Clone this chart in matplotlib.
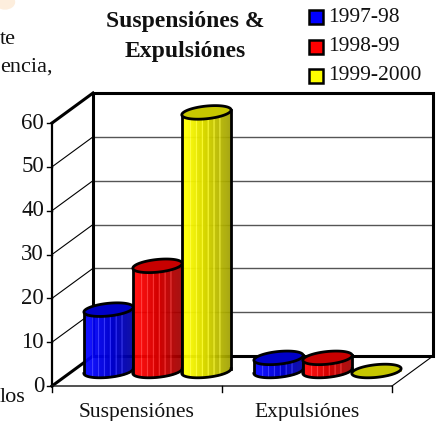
import numpy as np
import matplotlib
matplotlib.use('Agg')
import matplotlib.pyplot as plt
from matplotlib.patches import Ellipse, Rectangle

plt.rcParams['font.family'] = ['Liberation Serif', 'DejaVu Serif']

# Datos
categorias = ['Suspensiónes', 'Expulsiónes']
series = ['1997-98', '1998-99', '1999-2000']
suspensiones = [14, 24, 59]
expulsiones = [3, 3, 0]
ticks_y = [0, 10, 20, 30, 40, 50, 60]

colores = [(0, 0, 1), (1, 0, 0), (1, 1, 0)]
W, H = 436, 421
x0_px, y0_px = 52, 386      # origen de la cara frontal
ux, uy = 170.0, 4.383       # pixeles por categoria / por unidad
dx, dy = 41 / ux, 30 / uy   # profundidad en unidades de datos

fig = plt.figure(figsize=(W / 100, H / 100), dpi=100)
ax = fig.add_axes([0, 0, 1, 1])
ax.set_xlim(-x0_px / ux, (W - x0_px) / ux)
ax.set_ylim(-(H - y0_px) / uy, y0_px / uy)
ax.axis('off')

ymax = ticks_y[-1]


def px(x, y):
    # pixel de la imagen a coordenadas de datos, solo para textos sueltos
    return (x - x0_px) / ux, (y0_px - y) / uy


# Paredes y rejilla
for v in ticks_y[1:-1]:
    ax.plot([0, dx], [v, v + dy], color='black', lw=0.8, zorder=1)
    ax.plot([dx, 2 + dx], [v + dy, v + dy], color='#555555', lw=1.0, zorder=1)
ax.plot([dx, dx, 2 + dx, 2 + dx, dx], [dy, ymax + dy, ymax + dy, dy, dy],
        color='black', lw=2.2, zorder=1, solid_joinstyle='miter')
ax.plot([0, dx], [ymax, ymax + dy], color='black', lw=2.2, zorder=1)
ax.plot([0, dx], [0, dy], color='black', lw=2.2, zorder=1)
ax.plot([2, 2 + dx], [0, dy], color='black', lw=0.8, zorder=1)
ax.plot([0, 0], [0, ymax], color='black', lw=1.6, zorder=2)
ax.plot([0, 2], [0, 0], color='#222222', lw=1.1, zorder=2)

# Marcas y etiquetas de ejes
for v in ticks_y:
    ax.plot([-5 / ux, 0], [v, v], color='black', lw=1.0, zorder=2)
    ax.text(-8 / ux, v, str(v), ha='right', va='center', fontsize=16.5, color='#111111')
for c in [0, 1, 2]:
    ax.plot([c, c], [0, -6 / uy], color='black', lw=1.0, zorder=2)
for i, cat in enumerate(categorias):
    ax.text(i + 0.5, -26 / uy, cat, ha='center', va='center', fontsize=15.5, color='#111111')

# Cilindros
a, b, t = 0.145, 1.45, 0.55
ang = np.linspace(0, 2 * np.pi, 120)


def cilindro(cx, val, col, z):
    cy = dy / 2
    top = cy + val
    base_x = np.linspace(-a, a, 51)
    c = base_x / a
    low = -b * np.sqrt(1 - c ** 2) + t * c
    for k in range(50):
        f = (k + 0.5) / 50
        shade = 1.0 - 0.38 * max(0, f - 0.1) / 0.9
        extra = 0.0
        if k % 6 == 2 and 0.1 < f < 0.85:
            extra = 0.22
        rgb = [min(1, ch * shade + extra) for ch in col]
        xs = cx + base_x[k:k + 2]
        ax.fill_between(xs, cy + low[k:k + 2], [top, top], color=rgb, lw=0.3, zorder=z)
    ex = cx + a * np.cos(ang)
    if val > 0:
        ax.plot(ex[60:], cy + (b * np.sin(ang) + t * np.cos(ang))[60:], color='black', lw=2, zorder=z + 0.1)
        ax.plot([cx - a, cx - a], [cy - t, top - t], color='black', lw=2, zorder=z + 0.1)
        ax.plot([cx + a, cx + a], [cy + t, top + t], color='black', lw=2, zorder=z + 0.1)
    ey = top + b * np.sin(ang) + t * np.cos(ang)
    ax.fill(ex, ey, facecolor=[ch * 0.78 for ch in col], edgecolor='black', lw=2, zorder=z + 0.2)


for i, vals in enumerate([suspensiones, expulsiones]):
    for j, v in enumerate(vals):
        centro = i + 0.5 + (j - 1) * 0.288 + dx / 2
        cilindro(centro, v, colores[j], 3 + j)

# Titulo
ax.text(*px(185.5, 22), 'Suspensiónes &', ha='center', va='center',
        fontsize=17, fontweight='bold', color='#111111')
ax.text(*px(185.5, 52), 'Expulsiónes', ha='center', va='center',
        fontsize=17, fontweight='bold', color='#111111')

# Leyenda
for j, s in enumerate(series):
    yy = 17 + j * 29.5
    ax.add_patch(Rectangle(px(309, yy + 7), 14 / ux, 14 / uy,
                           facecolor=colores[j], edgecolor='black', lw=1.8, zorder=5))
    ax.text(*px(328, yy), s, ha='left', va='center', fontsize=15.5, color='#111111')

# Restos del texto de la pagina
ax.text(*px(16, 40), 'te', ha='right', va='center', fontsize=16, color='#111111')
ax.text(*px(53, 67), 'encia,', ha='right', va='center', fontsize=16, color='#111111')
ax.text(*px(25, 398), 'los', ha='right', va='center', fontsize=16, color='#111111')
ax.add_patch(Ellipse(px(5, 2), 0.12, 3.5, facecolor='#fdeedd', edgecolor='none'))

fig.savefig('out.png', dpi=100)
